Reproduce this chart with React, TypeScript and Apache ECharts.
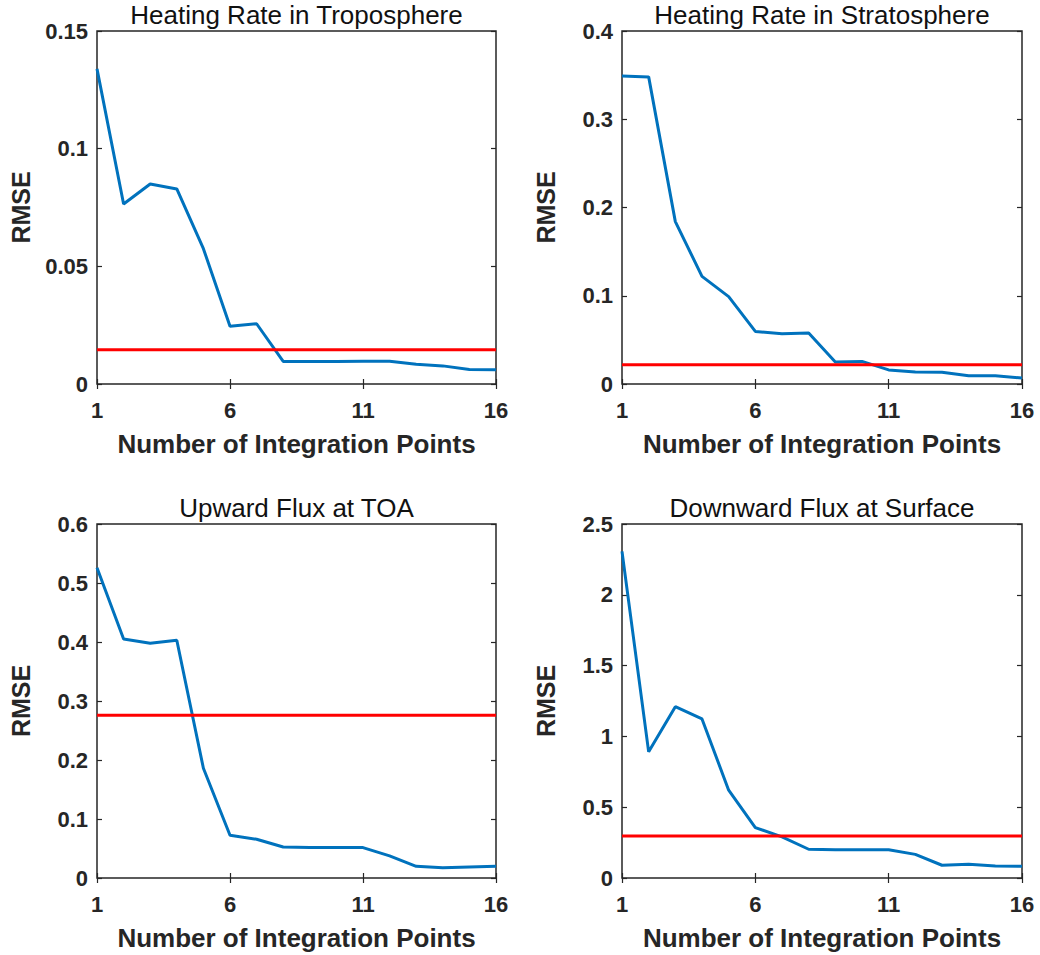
import React, { useEffect, useRef } from "react";
import * as echarts from "echarts";

// ---- data ----
const points = [1, 2, 3, 4, 5, 6, 7, 8, 9, 10, 11, 12, 13, 14, 15, 16];
const xTicks = [1, 6, 11, 16];

const tropoTitle = "Heating Rate in Troposphere";
const tropoRmse = [0.1339, 0.0765, 0.085, 0.0829, 0.0575, 0.0245, 0.0256, 0.0096, 0.0096, 0.0096, 0.0097, 0.0097, 0.0084, 0.0077, 0.0062, 0.0061];
const tropoRef = 0.0146;
const tropoY = { max: 0.15, interval: 0.05 };

const stratoTitle = "Heating Rate in Stratosphere";
const stratoRmse = [0.349, 0.348, 0.184, 0.122, 0.099, 0.0596, 0.057, 0.0577, 0.025, 0.0256, 0.016, 0.0136, 0.0132, 0.0094, 0.0094, 0.0068];
const stratoRef = 0.0219;
const stratoY = { max: 0.4, interval: 0.1 };

const toaTitle = "Upward Flux at TOA";
const toaRmse = [0.526, 0.405, 0.398, 0.403, 0.186, 0.0725, 0.0657, 0.0526, 0.0515, 0.0515, 0.0515, 0.0374, 0.0198, 0.0175, 0.0187, 0.0198];
const toaRef = 0.276;
const toaY = { max: 0.6, interval: 0.1 };

const sfcTitle = "Downward Flux at Surface";
const sfcRmse = [2.307, 0.891, 1.21, 1.123, 0.62, 0.356, 0.29, 0.203, 0.2, 0.2, 0.2, 0.167, 0.09, 0.097, 0.085, 0.083];
const sfcRef = 0.297;
const sfcY = { max: 2.5, interval: 0.5 };

const xName = "Number of Integration Points";
const yName = "RMSE";

// ---- layout / style ----
const FONT = "'Liberation Sans', Arial, Helvetica, sans-serif";
const INK = "#262626";
const BLUE = "#0072BD";
const RED = "#FF0000";

const panels = [
  { title: tropoTitle, vals: tropoRmse, ref: tropoRef, y: tropoY, left: 97, top: 31, width: 399, height: 353 },
  { title: stratoTitle, vals: stratoRmse, ref: stratoRef, y: stratoY, left: 622, top: 31, width: 400, height: 353 },
  { title: toaTitle, vals: toaRmse, ref: toaRef, y: toaY, left: 97, top: 524, width: 399, height: 354 },
  { title: sfcTitle, vals: sfcRmse, ref: sfcRef, y: sfcY, left: 622, top: 524, width: 400, height: 354 },
];

function buildOption() {
  const grid: any[] = [];
  const xAxis: any[] = [];
  const yAxis: any[] = [];
  const series: any[] = [];
  const graphic: any[] = [];

  panels.forEach((p, i) => {
    grid.push({
      left: p.left,
      top: p.top,
      width: p.width,
      height: p.height,
      show: true,
      borderColor: INK,
      borderWidth: 1.5,
      backgroundColor: "#fff",
    });
    const xBase = {
      type: "value",
      gridIndex: i,
      min: xTicks[0],
      max: xTicks[xTicks.length - 1],
      interval: xTicks[1] - xTicks[0],
      splitLine: { show: false },
      axisLine: { show: false },
      axisTick: { show: true, inside: true, length: 5, lineStyle: { color: INK, width: 1.2 } },
    };
    xAxis.push({
      ...xBase,
      position: "bottom",
      name: xName,
      nameLocation: "middle",
      nameGap: 47,
      nameTextStyle: { fontFamily: FONT, fontSize: 26, fontWeight: "bold", color: INK },
      axisLabel: { fontFamily: FONT, fontSize: 22, fontWeight: "bold", color: INK, margin: 15 },
    });
    xAxis.push({ ...xBase, position: "top", axisLabel: { show: false } });

    const yBase = {
      type: "value",
      gridIndex: i,
      min: 0,
      max: p.y.max,
      interval: p.y.interval,
      splitLine: { show: false },
      axisLine: { show: false },
      axisTick: { show: true, inside: true, length: 5, lineStyle: { color: INK, width: 1.2 } },
    };
    yAxis.push({
      ...yBase,
      position: "left",
      name: yName,
      nameLocation: "middle",
      nameGap: 64,
      nameRotate: 90,
      nameTextStyle: { fontFamily: FONT, fontSize: 25, fontWeight: "bold", color: INK },
      axisLabel: { fontFamily: FONT, fontSize: 22, fontWeight: "bold", color: INK, margin: 9 },
    });
    yAxis.push({ ...yBase, position: "right", axisLabel: { show: false } });

    series.push({
      type: "line",
      xAxisIndex: 2 * i,
      yAxisIndex: 2 * i,
      data: points.map((x, k) => [x, p.vals[k]]),
      showSymbol: false,
      symbol: "none",
      lineStyle: { color: BLUE, width: 3 },
      z: 3,
    });
    series.push({
      type: "line",
      xAxisIndex: 2 * i,
      yAxisIndex: 2 * i,
      data: [
        [points[0], p.ref],
        [points[points.length - 1], p.ref],
      ],
      showSymbol: false,
      symbol: "none",
      lineStyle: { color: RED, width: 3 },
      z: 4,
    });

    graphic.push({
      type: "text",
      x: p.left + p.width / 2,
      y: p.top - 16,
      style: {
        text: p.title,
        fill: "#111",
        font: `26px ${FONT}`,
        align: "center",
        verticalAlign: "middle",
      },
    });
  });

  return {
    animation: false,
    backgroundColor: "#fff",
    grid,
    xAxis,
    yAxis,
    series,
    graphic,
  };
}

export default function App() {
  const ref = useRef<HTMLDivElement>(null);
  useEffect(() => {
    document.body.style.margin = "0";
    const chart = echarts.init(ref.current!, undefined, { renderer: "svg" });
    chart.setOption(buildOption() as any);
    return () => chart.dispose();
  }, []);
  return <div ref={ref} style={{ width: 1040, height: 955 }} />;
}
